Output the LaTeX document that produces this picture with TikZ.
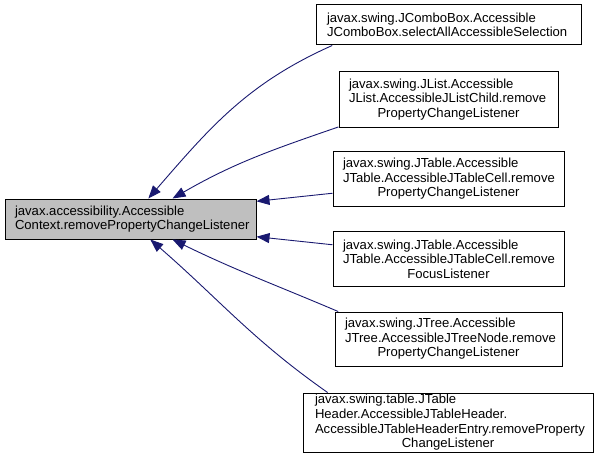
\documentclass[tikz,border=0pt]{standalone}
\usepackage{fontspec}
\setmainfont{Liberation Sans}
\usetikzlibrary{arrows.meta}
\definecolor{midnight}{RGB}{25,25,112}
\definecolor{greyroot}{RGB}{191,191,191}
\newcommand{\lastln}[1]{\makebox[\hsize][c]{#1}}
\tikzset{
  fn/.style={draw=black, fill=white, line width=1pt, align=left, inner ysep=0pt,
    inner xsep=10pt, font=\fontsize{13.1}{14.6}\selectfont},
  call/.style={draw=midnight, line width=0.9pt, -{Triangle[length=13pt,width=10pt]}}
}
\begin{document}
\begin{tikzpicture}[x=1pt,y=1pt]
        \useasboundingbox (0,0) rectangle (599,-468);
        % the function being called
        \node[fn, fill=greyroot, text width=231pt, minimum height=40pt] (root) at (130.5,-219)
          {javax.accessibility.Accessible\\Context.removePropertyChangeListener};

        % callers
        \node[fn, inner xsep=11pt, text width=243pt, minimum height=40pt] (combo) at (448.5,-25)
          {javax.swing.JComboBox.Accessible\\JComboBox.selectAllAccessibleSelection};
        \node[fn, text width=199pt, minimum height=55pt] (list) at (448.5,-99.5)
          {javax.swing.JList.Accessible\\JList.AccessibleJListChild.remove\\\lastln{PropertyChangeListener}};
        \node[fn, text width=211pt, minimum height=55pt] (cellpcl) at (448.5,-179)
          {javax.swing.JTable.Accessible\\JTable.AccessibleJTableCell.remove\\\lastln{PropertyChangeListener}};
        \node[fn, text width=211pt, minimum height=55pt] (cellfocus) at (448.5,-259)
          {javax.swing.JTable.Accessible\\JTable.AccessibleJTableCell.remove\\\lastln{FocusListener}};
        \node[fn, text width=207pt, minimum height=54pt] (tree) at (448.5,-339)
          {javax.swing.JTree.Accessible\\JTree.AccessibleJTreeNode.remove\\\lastln{PropertyChangeListener}};
        \node[fn, inner xsep=12pt, text width=266pt, minimum height=59pt] (header) at (448,-422.5)
          {javax.swing.table.JTable\\Header.AccessibleJTableHeader.\\AccessibleJTableHeaderEntry.removeProperty\\\lastln{ChangeListener}};

        % call edges
        \draw[call] (combo.190) to[out=204,in=49] (root.49);
        \draw[call] (list.194) to[out=199,in=30] (root.26);
        \draw[call] (cellpcl.187) -- (root.8);
        \draw[call] (cellfocus.173) -- (root.352);
        \draw[call] (tree.166) to[out=157,in=-26] (root.334);
        \draw[call] (header.166) to[out=145,in=-41] (root.314);
    \end{tikzpicture}
\end{document}
